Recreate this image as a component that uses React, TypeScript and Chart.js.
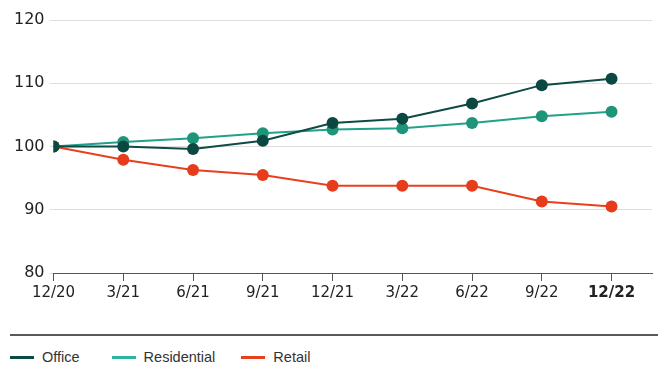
import React, { useEffect, useRef } from "react";
import { Chart, registerables } from "chart.js";

Chart.register(...registerables);

const categories = ["12/20", "3/21", "6/21", "9/21", "12/21", "3/22", "6/22", "9/22", "12/22"];
const office = [100, 100, 99.6, 100.9, 103.7, 104.4, 106.8, 109.7, 110.7];
const residential = [100, 100.7, 101.3, 102.1, 102.7, 102.9, 103.7, 104.8, 105.5];
const retail = [100, 97.9, 96.3, 95.5, 93.8, 93.8, 93.8, 91.3, 90.5];
const yTicks = [80, 90, 100, 110, 120];

const seriesNames = ["Office", "Residential", "Retail"];
const lineColors = ["#0d4b44", "#22a08a", "#e8401e"];
const pointColors = ["#0b4841", "#1e9478", "#e63c1c"];
const swatchColors = ["#0d4b44", "#2cb5a2", "#e8401e"];

const toXY = (arr: number[]) => arr.map((y, i) => ({ x: i, y }));

export default function App() {
  const ref = useRef<HTMLCanvasElement | null>(null);
  useEffect(() => {
    document.body.style.margin = "0";
    const ctx = ref.current!;
    const all = [office, residential, retail];
    const chart = new Chart(ctx, {
      type: "line",
      data: {
        datasets: all.map((d, i) => ({
          label: seriesNames[i],
          data: toXY(d),
          borderColor: lineColors[i],
          backgroundColor: pointColors[i],
          pointBackgroundColor: pointColors[i],
          pointBorderColor: pointColors[i],
          pointRadius: 6,
          pointBorderWidth: 0,
          borderWidth: 2,
          tension: 0,
        })),
      },
      options: {
        responsive: false,
        animation: false,
        events: [],
        layout: { padding: { top: 20, left: 9, right: 0, bottom: 0 } },
        plugins: { legend: { display: false }, tooltip: { enabled: false } },
        scales: {
          x: {
            type: "linear",
            min: 0,
            max: 8.58,
            afterBuildTicks: (scale: any) => {
              scale.ticks = categories.map((_, i) => ({ value: i }));
            },
            grid: { drawOnChartArea: false, drawTicks: true, tickLength: 8, color: "#555", lineWidth: 1 },
            border: { display: true, color: "#555", width: 1 },
            ticks: {
              autoSkip: false,
              maxRotation: 0,
              padding: 3,
              color: "#222",
              callback: (v: any) => categories[v as number] ?? "",
              font: (c: any) => ({
                family: "DejaVu Sans",
                size: 15,
                weight: c.index === categories.length - 1 ? "bold" : "normal",
              }),
            },
          },
          y: {
            min: yTicks[0],
            max: yTicks[yTicks.length - 1],
            afterBuildTicks: (scale: any) => {
              scale.ticks = yTicks.map((v) => ({ value: v }));
            },
            grid: { color: "#dedede", lineWidth: 1, drawTicks: true, tickLength: 4 },
            border: { display: false },
            ticks: {
              padding: 5,
              color: "#222",
              font: { family: "DejaVu Sans", size: 16 },
            },
          },
        },
      },
    });
    return () => chart.destroy();
  }, []);

  return (
    <div style={{ width: 658, height: 368, position: "relative", background: "#fff" }}>
      <canvas ref={ref} width={658} height={305} style={{ display: "block" }} />
      <div
        style={{
          position: "absolute",
          left: 10,
          right: 0,
          top: 334,
          height: 0,
          borderTop: "2px solid #5a5a5a",
        }}
      />
      <div
        style={{
          position: "absolute",
          left: 10,
          top: 349,
          display: "flex",
          alignItems: "center",
          fontFamily: "'Liberation Sans', Arial, sans-serif",
          fontSize: 14.5,
          color: "#333",
        }}
      >
        {seriesNames.map((n, i) => (
          <div key={n} style={{ display: "flex", alignItems: "center", marginRight: i === 0 ? 32 : 26 }}>
            <span style={{ display: "inline-block", width: 24, height: 3, background: swatchColors[i], marginRight: 8 }} />
            <span>{n}</span>
          </div>
        ))}
      </div>
    </div>
  );
}
